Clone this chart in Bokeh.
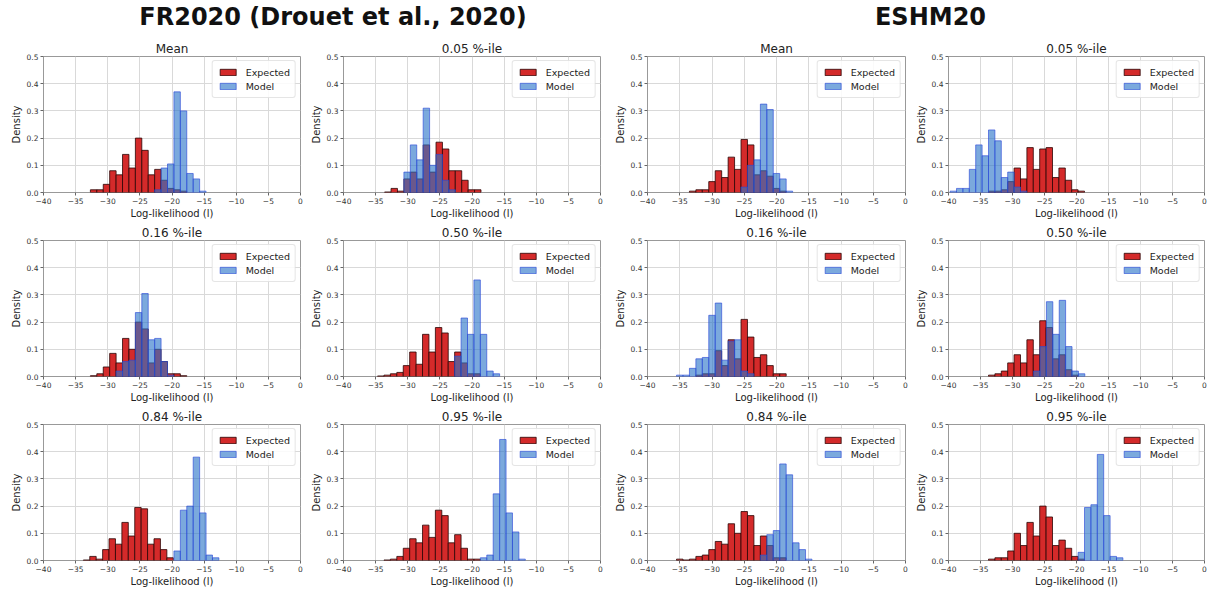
from bokeh.plotting import figure
from bokeh.layouts import row, column
from bokeh.models import FixedTicker, Range1d, NumeralTickFormatter
from bokeh.embed import file_html
from bokeh.resources import INLINE

# ---------------- data ----------------
BIN_WIDTH = 1.0
X_TICKS = [-40, -35, -30, -25, -20, -15, -10, -5, 0]
X_TICK_LABELS = ["\u221240", "\u221235", "\u221230", "\u221225", "\u221220",
                 "\u221215", "\u221210", "\u22125", "0"]
Y_TICKS = [0, 0.1, 0.2, 0.3, 0.4, 0.5]

GROUP_TITLES = ["FR2020 (Drouet et al., 2020)", "ESHM20"]
PANEL_TITLES = ["Mean", "0.05 %-ile", "0.16 %-ile", "0.50 %-ile", "0.84 %-ile", "0.95 %-ile"]
SERIES_NAMES = ["Expected", "Model"]

# FR2020 -- each series: left edge of first bin, densities per bin
fr_mean_exp_start = -32.7
fr_mean_exp = [0.01, 0.01, 0.03, 0.08, 0.065, 0.14, 0.09, 0.2, 0.155, 0.065, 0.085, 0.045, 0.015, 0.01, 0.005]
fr_mean_mod_start = -22.7
fr_mean_mod = [0.01, 0.09, 0.105, 0.37, 0.30, 0.07, 0.05, 0.005]

fr_p05_exp_start = -33.6
fr_p05_exp = [0.002, 0.015, 0.005, 0.05, 0.075, 0.05, 0.175, 0.075, 0.185, 0.16, 0.08, 0.08, 0.045, 0.01, 0.01]
fr_p05_mod_start = -30.6
fr_p05_mod = [0.075, 0.175, 0.12, 0.31, 0.1, 0.14, 0.045, 0.01]

fr_p16_exp_start = -32.7
fr_p16_exp = [0.003, 0.01, 0.035, 0.085, 0.05, 0.14, 0.1, 0.2, 0.175, 0.05, 0.1, 0.055, 0.01, 0.01, 0.003]
fr_p16_mod_start = -28.7
fr_p16_mod = [0.02, 0.055, 0.06, 0.235, 0.305, 0.135, 0.14, 0.055, 0.005]

fr_p50_exp_start = -34.7
fr_p50_exp = [0.002, 0.005, 0.01, 0.015, 0.04, 0.09, 0.045, 0.155, 0.09, 0.18, 0.16, 0.055, 0.09, 0.05, 0.01, 0.01]
fr_p50_mod_start = -22.7
fr_p50_mod = [0.075, 0.215, 0.155, 0.355, 0.155, 0.02, 0.01]

fr_p84_exp_start = -33.8
fr_p84_exp = [0.002, 0.015, 0.005, 0.04, 0.08, 0.06, 0.14, 0.09, 0.195, 0.19, 0.06, 0.08, 0.04, 0.01]
fr_p84_mod_start = -19.7
fr_p84_mod = [0.035, 0.185, 0.2, 0.38, 0.175, 0.02, 0.01]

fr_p95_exp_start = -33.7
fr_p95_exp = [0.002, 0.005, 0.015, 0.045, 0.08, 0.065, 0.13, 0.085, 0.185, 0.165, 0.065, 0.095, 0.045, 0.005, 0.005]
fr_p95_mod_start = -18.7
fr_p95_mod = [0.01, 0.02, 0.245, 0.445, 0.175, 0.105, 0.005]

# ESHM20
es_mean_exp_start = -33.5
es_mean_exp = [0.005, 0.01, 0.01, 0.04, 0.08, 0.055, 0.13, 0.085, 0.195, 0.175, 0.065, 0.08, 0.06, 0.015, 0.005]
es_mean_mod_start = -25.5
es_mean_mod = [0.02, 0.1, 0.12, 0.325, 0.305, 0.07, 0.05, 0.005]

es_p05_exp_start = -33.75
es_p05_exp = [0.005, 0.005, 0.01, 0.04, 0.09, 0.05, 0.165, 0.085, 0.16, 0.165, 0.055, 0.09, 0.045, 0.01, 0.005]
es_p05_mod_start = -39.75
es_p05_mod = [0.005, 0.015, 0.015, 0.085, 0.175, 0.135, 0.23, 0.19, 0.055, 0.075, 0.02, 0.005]

es_p16_exp_start = -32.5
es_p16_exp = [0.005, 0.01, 0.01, 0.095, 0.04, 0.135, 0.065, 0.21, 0.145, 0.07, 0.08, 0.04, 0.01, 0.01]
es_p16_mod_start = -35.5
es_p16_mod = [0.005, 0.005, 0.03, 0.065, 0.07, 0.225, 0.27, 0.06, 0.13, 0.135, 0.02, 0.01]

es_p50_exp_start = -33.75
es_p50_exp = [0.005, 0.01, 0.02, 0.05, 0.08, 0.05, 0.135, 0.08, 0.205, 0.18, 0.065, 0.08, 0.025, 0.005]
es_p50_mod_start = -26.7
es_p50_mod = [0.02, 0.11, 0.275, 0.155, 0.28, 0.11, 0.02, 0.01]

es_p84_exp_start = -35.5
es_p84_exp = [0.005, 0.002, 0.005, 0.015, 0.02, 0.04, 0.07, 0.06, 0.135, 0.1, 0.18, 0.165, 0.055, 0.09, 0.055, 0.01, 0.01]
es_p84_mod_start = -22.5
es_p84_mod = [0.02, 0.095, 0.11, 0.355, 0.315, 0.065, 0.04, 0.005]

es_p95_exp_start = -33.75
es_p95_exp = [0.005, 0.01, 0.01, 0.035, 0.1, 0.055, 0.14, 0.09, 0.2, 0.16, 0.055, 0.075, 0.045, 0.015, 0.005]
es_p95_mod_start = -19.75
es_p95_mod = [0.03, 0.195, 0.205, 0.39, 0.165, 0.015, 0.01]

# ---------------- styling ----------------
FONT = "DejaVu Sans"
RED_FILL = "#d42a2a"
RED_LINE = "#2a0505"
BLUE_FILL = "#2a74c8"
BLUE_LINE = "#2a48d8"

COL_WIDTHS = [305, 300, 305, 300]
COL_LEFT = [43, 38, 42, 38]
COL_RIGHT = [5, 5, 5, 6]
ROW_H = 184
HEADER_H = 38


def bins(start, heights):
    left = [start + i * BIN_WIDTH for i in range(len(heights))]
    right = [l + BIN_WIDTH for l in left]
    return left, right


def make_panel(title, exp_start, exp, mod_start, mod, col):
    p = figure(width=COL_WIDTHS[col], height=ROW_H,
               x_range=Range1d(-40, 0), y_range=Range1d(0, 0.5),
               toolbar_location=None, output_backend="svg",
               min_border_left=COL_LEFT[col], min_border_right=COL_RIGHT[col],
               min_border_top=18, min_border_bottom=30)
    p.title.text = title
    p.title.align = "center"
    p.title.text_font = FONT
    p.title.text_font_size = "12px"
    p.title.text_font_style = "normal"
    p.title.text_color = "#222222"
    p.title.standoff = 2

    l, r = bins(exp_start, exp)
    p.quad(left=l, right=r, bottom=0, top=exp, fill_color=RED_FILL, fill_alpha=1.0,
           line_color=RED_LINE, line_width=0.8, legend_label=SERIES_NAMES[0])
    l, r = bins(mod_start, mod)
    p.quad(left=l, right=r, bottom=0, top=mod, fill_color=BLUE_FILL, fill_alpha=0.62,
           line_color=BLUE_LINE, line_alpha=0.8, line_width=0.8, legend_label=SERIES_NAMES[1])

    p.xaxis.ticker = FixedTicker(ticks=X_TICKS)
    p.xaxis.major_label_overrides = dict(zip(X_TICKS, X_TICK_LABELS))
    p.yaxis.ticker = FixedTicker(ticks=Y_TICKS)
    p.yaxis.formatter = NumeralTickFormatter(format="0.0")
    p.xgrid.ticker = FixedTicker(ticks=X_TICKS)
    p.ygrid.ticker = FixedTicker(ticks=Y_TICKS)
    p.grid.grid_line_color = "#d9d9d9"
    p.grid.grid_line_width = 1

    p.xaxis.axis_label = "Log-likelihood (l)"
    p.yaxis.axis_label = "Density"
    for ax in (p.xaxis[0], p.yaxis[0]):
        ax.axis_line_color = None
        ax.major_tick_line_color = "#666666"
        ax.major_tick_out = 3
        ax.major_tick_in = 0
        ax.minor_tick_line_color = None
        ax.major_label_text_font = FONT
        ax.major_label_text_font_size = "7.5px"
        ax.major_label_text_color = "#333333"
        ax.major_label_standoff = 2
        ax.axis_label_text_font = FONT
        ax.axis_label_text_font_size = "10px"
        ax.axis_label_text_font_style = "normal"
        ax.axis_label_text_color = "#222222"
        ax.axis_label_standoff = 2
    p.xaxis.axis_label_standoff = 1
    p.outline_line_color = "#999999"
    p.background_fill_color = "white"
    p.border_fill_color = "white"

    lg = p.legend[0]
    lg.location = "top_right"
    lg.label_text_font = FONT
    lg.label_text_font_size = "9.5px"
    lg.label_text_color = "#222222"
    lg.glyph_width = 20
    lg.glyph_height = 8
    lg.label_height = 12
    lg.label_standoff = 8
    lg.spacing = 2
    lg.padding = 5
    lg.margin = 4
    lg.border_line_color = "#cccccc"
    lg.background_fill_alpha = 0.85
    lg.border_radius = 3
    return p


def make_header(text, width, left):
    h = figure(width=width, height=HEADER_H, x_range=Range1d(0, 1), y_range=Range1d(0, 1),
               toolbar_location=None, output_backend="svg",
               min_border_left=left, min_border_right=0, min_border_top=0, min_border_bottom=0)
    h.title.text = text
    h.title.align = "center"
    h.title.text_font = FONT
    h.title.text_font_size = "24px"
    h.title.text_font_style = "bold"
    h.title.text_color = "#111111"
    h.title.standoff = 0
    h.axis.visible = False
    h.grid.visible = False
    h.outline_line_color = None
    return h


fr = [(fr_mean_exp_start, fr_mean_exp, fr_mean_mod_start, fr_mean_mod),
      (fr_p05_exp_start, fr_p05_exp, fr_p05_mod_start, fr_p05_mod),
      (fr_p16_exp_start, fr_p16_exp, fr_p16_mod_start, fr_p16_mod),
      (fr_p50_exp_start, fr_p50_exp, fr_p50_mod_start, fr_p50_mod),
      (fr_p84_exp_start, fr_p84_exp, fr_p84_mod_start, fr_p84_mod),
      (fr_p95_exp_start, fr_p95_exp, fr_p95_mod_start, fr_p95_mod)]
es = [(es_mean_exp_start, es_mean_exp, es_mean_mod_start, es_mean_mod),
      (es_p05_exp_start, es_p05_exp, es_p05_mod_start, es_p05_mod),
      (es_p16_exp_start, es_p16_exp, es_p16_mod_start, es_p16_mod),
      (es_p50_exp_start, es_p50_exp, es_p50_mod_start, es_p50_mod),
      (es_p84_exp_start, es_p84_exp, es_p84_mod_start, es_p84_mod),
      (es_p95_exp_start, es_p95_exp, es_p95_mod_start, es_p95_mod)]

rows = []
for r in range(3):
    children = []
    for g, group in enumerate([fr, es]):
        for c in range(2):
            k = r * 2 + c
            col = g * 2 + c
            children.append(make_panel(PANEL_TITLES[k], *group[k], col))
    rows.append(row(children, spacing=0))

header = row([make_header(GROUP_TITLES[0], 605, 60), make_header(GROUP_TITLES[1], 605, 45)], spacing=0)
layout = column([header] + rows, spacing=0)

open("out.html", "w").write(file_html(layout, INLINE))
